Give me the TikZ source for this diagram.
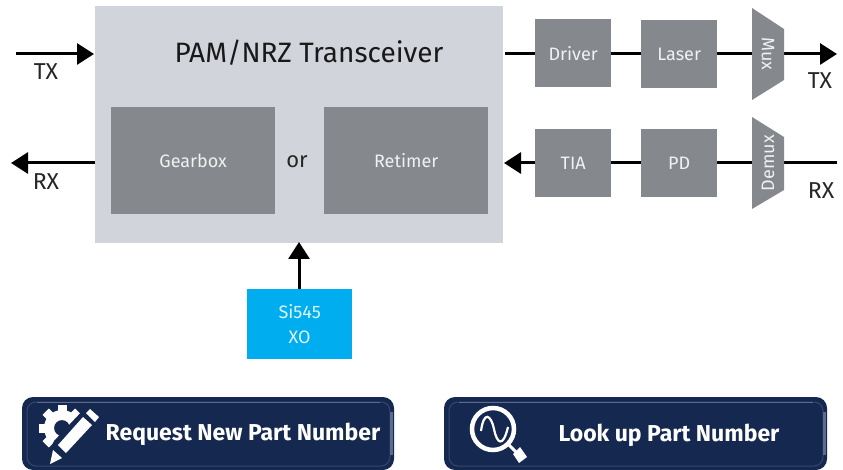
\documentclass[tikz,border=0pt]{standalone}
\usepackage{fontspec}
\setmainfont{Fira Sans}
\usetikzlibrary{arrows.meta,calc}
\definecolor{lightbox}{HTML}{D1D4DB}
\definecolor{darkbox}{HTML}{85888D}
\definecolor{cyanbox}{HTML}{00AEEF}
\definecolor{navy}{HTML}{152850}
\definecolor{edge}{HTML}{5E6C8C}
\tikzset{
  x=1pt,y=-1pt,
  gbox/.style={fill=darkbox,draw=none,inner sep=0pt,font=\fontsize{18}{20}\selectfont\color{white!88!darkbox}},
  wire/.style={line width=3pt,black},
  arr/.style={wire,-{Triangle[length=17pt,width=21pt]}},
  lab/.style={font=\fontsize{23}{26}\selectfont\color{black!85},inner sep=0pt},
  btn/.style={fill=navy,draw=none,rounded corners=11pt},
  btnin/.style={draw=navy!55!edge,line width=1pt,rounded corners=9pt},
  btntext/.style={text=white,inner sep=0pt,font=\fontsize{23}{25}\selectfont\bfseries},
  ic/.style={fill=white,draw=none},
  vtext/.style={inner sep=0pt,font=\fontsize{18}{20}\selectfont\color{white!88!darkbox}}
}
\newcommand{\boxat}[6]{\node[gbox,minimum width=#4 pt,minimum height=#5 pt,anchor=north west] (#1) at (#2,#3) {#6};}
\begin{document}
\begin{tikzpicture}
\useasboundingbox (0,0) rectangle (843,470);
% main
\node[fill=lightbox,minimum width=408pt,minimum height=237pt,anchor=north west,inner sep=0pt] (main) at (95,6) {};
\node[inner sep=0pt,font=\fontsize{28}{30}\selectfont,text=black!90] (title) at (309,53) {PAM/NRZ Transceiver};
\boxat{gear}{111}{107}{164}{107}{Gearbox}
\boxat{ret}{324}{107}{164}{107}{Retimer}
\node[inner sep=0pt,font=\fontsize{22}{24}\selectfont,text=black!85] (or) at (297,162) {or};
% right boxes
\boxat{drv}{535}{19}{76}{68}{Driver}
\boxat{las}{641}{20}{76}{68}{Laser}
\boxat{tia}{535}{129}{76}{68}{TIA}
\boxat{pd}{641}{129}{76}{68}{PD}
% wires
\coordinate (txin) at (16,54);
\coordinate (txout) at (837,54);
\coordinate (rxin) at (837,163);
\coordinate (rxout) at (11,163);
\coordinate (mainE1) at (505,54);
\coordinate (mainE2) at (504,163);
\coordinate (muxW) at (752,54);
\coordinate (muxE) at (784,54);
\coordinate (demW) at (752,163);
\coordinate (demE) at (784,163);
\coordinate (mainL1) at (94,54);
\coordinate (mainL2) at (95,163);
\coordinate (mainB) at (299,242);
\draw[arr] (txin) -- (mainL1);
\draw[arr] (mainL2) -- (rxout);
\draw[wire] (mainE1) -- (drv.west|-mainE1);
\draw[wire] (drv.east|-mainE1) -- (las.west|-mainE1);
\draw[wire] (las.east|-mainE1) -- (muxW);
\draw[arr] (muxE) -- (txout);
\draw[wire] (rxin) -- (demE);
\draw[wire] (demW) -- (pd.east|-demW);
\draw[wire] (pd.west|-demW) -- (tia.east|-demW);
\draw[arr] (tia.west|-demW) -- (mainE2);
% mux shapes
\fill[darkbox] (752,8) -- (784,29) -- (784,80) -- (752,100) -- cycle;
\fill[darkbox] (752,117) -- (784,137) -- (784,190) -- (752,209) -- cycle;
\node[rotate=-90,vtext] (muxl) at (768,54) {Mux};
\node[rotate=90,vtext] (demuxl) at (768,163) {Demux};
% labels
\node[lab] (l1) at (46,72) {TX};
\node[lab] (l2) at (46,182) {RX};
\node[lab] (l3) at (820,81) {TX};
\node[lab] (l4) at (821,191) {RX};
% Si545
\node[fill=cyanbox,minimum width=105pt,minimum height=70pt,anchor=north west,inner sep=0pt,align=center,font=\fontsize{18}{25}\selectfont\color{white!88!cyanbox}] (si) at (247,289) {Si545\\XO};
\draw[arr] (si.north-|mainB) -- (mainB);
% buttons
\fill[btn] (22,397) rectangle (394,470);
\draw[btnin] (27,402) rectangle (390,466);
\draw[edge,line width=1pt] (37,402) -- (380,402);
\draw[edge,line width=3pt] (391,412) -- (391,455);
\node[btntext] (b1) at (243,434.5) {Request New Part Number};
\fill[btn] (444,397) rectangle (827,470);
\draw[btnin] (449,402) rectangle (823,466);
\draw[edge,line width=1pt] (459,402) -- (813,402);
\draw[edge,line width=3pt] (824,412) -- (824,455);
\node[btntext] (b2) at (669,435.5) {Look up Part Number};
% gear icon
\begin{scope}[shift={(62,428)}]
\foreach \a in {0,45,...,315}{\fill[white,rotate=\a] (-4.5,-23) rectangle (4.5,-14);}
\fill[white,even odd rule] (0,0) circle (18) (0,0) circle (8);
\end{scope}
\fill[navy] (42,465) -- (54,441) -- (86,407) -- (104,420) -- (70,458) -- cycle;
% pencil
\fill[ic] (58,445) -- (83,417) -- (92,425) -- (66,453) -- cycle;
\fill[ic] (86,413) -- (90,409) -- (99,417) -- (95,422) -- cycle;
\fill[ic] (53,450) -- (62,458) -- (50,464) -- cycle;
% magnifier
\draw[white,line width=4.5pt] (493,429) circle (21);
\draw[white,line width=2.2pt] (481,431) .. controls (484,410) and (491,415) .. (494,429) .. controls (497,444) and (503,448) .. (508,427);
\draw[white,line width=3pt] (509,445) -- (516,452);
\fill[white] (513,454) -- (520,447) -- (527,457) -- (519,463) -- cycle;
\end{tikzpicture}
\end{document}
